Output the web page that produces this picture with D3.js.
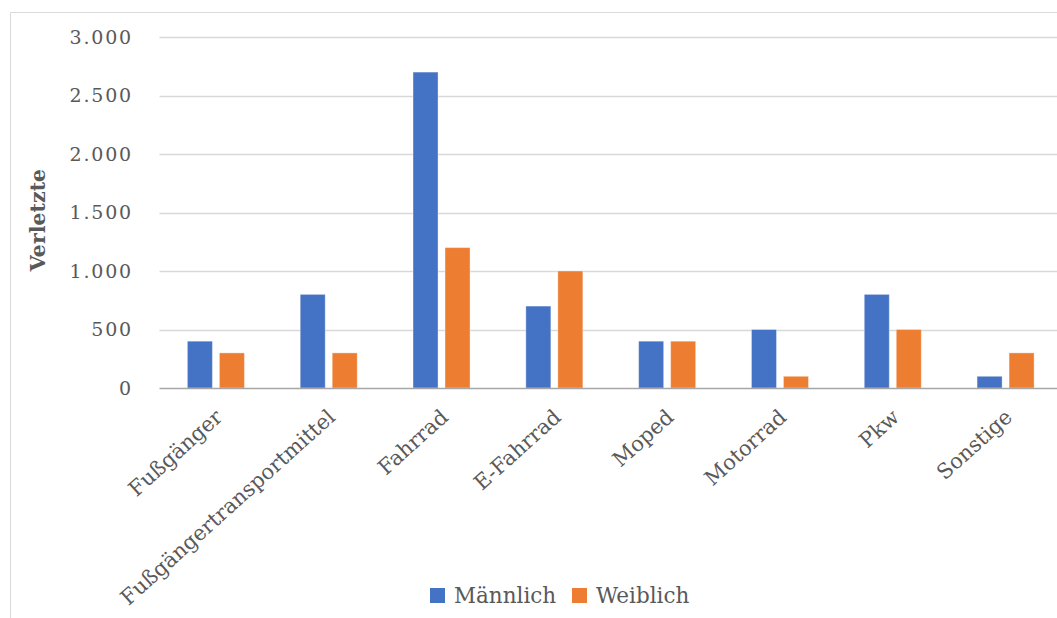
<!DOCTYPE html>
<html><head><meta charset="utf-8">
<script src="https://cdn.jsdelivr.net/npm/d3@7"></script>
<style>
html,body{margin:0;padding:0;background:#fff;}
svg{display:block;}
text{font-family:"DejaVu Serif","Liberation Serif",serif;fill:#595959;}
</style></head>
<body>
<svg id="c" width="1057" height="618"></svg>
<script>
const categories = ["Fußgänger","Fußgängertransportmittel","Fahrrad","E-Fahrrad","Moped","Motorrad","Pkw","Sonstige"];
const maennlich = [400,800,2700,700,400,500,800,100];
const weiblich  = [300,300,1200,1000,400,100,500,300];
const seriesNames = ["Männlich","Weiblich"];
const yTicks = [0,500,1000,1500,2000,2500,3000];
const yTitle = "Verletzte";

const colors = ["#4472C4","#ED7D31"];
const svg = d3.select("#c");
const W = 1057, H = 618;
const m = {left:159.5, right:-5, top:37, bottom:230};

// chart border
svg.append("path").attr("d","M10.5,618 V12.5 H1057")
  .attr("fill","none").attr("stroke","#d9d9d9").attr("stroke-width",1);

const x = d3.scaleBand().domain(categories).range([m.left, W - m.right]).paddingInner(0).paddingOuter(0);
const x1 = d3.scaleBand().domain(seriesNames).range([0, x.bandwidth()]).paddingInner(0.219).paddingOuter(0.872);
const y = d3.scaleLinear().domain([0,3000]).range([H - m.bottom, m.top]);

// gridlines
svg.append("g").selectAll("line").data(yTicks.filter(d=>d>0)).join("line")
  .attr("x1", m.left).attr("x2", W)
  .attr("y1", d=>Math.round(y(d))+0.5).attr("y2", d=>Math.round(y(d))+0.5)
  .attr("stroke","#d9d9d9").attr("stroke-width",1.3);

// y labels
const fmt = d => d3.format(",")(d).replace(/,/g,".");
svg.append("g").selectAll("text").data(yTicks).join("text")
  .attr("x",133).attr("y",d=>y(d)).attr("dy","0.35em")
  .attr("text-anchor","end").attr("font-size",19).attr("letter-spacing",1.8).text(fmt);

// bars
const data = categories.map((c,i)=>({c, vals:[maennlich[i], weiblich[i]]}));
const g = svg.append("g").selectAll("g").data(data).join("g")
  .attr("transform", d=>`translate(${x(d.c)},0)`);
g.selectAll("rect").data(d=>d.vals.map((v,j)=>({v,j}))).join("rect")
  .attr("x", d=>x1(seriesNames[d.j]))
  .attr("width", x1.bandwidth())
  .attr("y", d=>y(d.v))
  .attr("height", d=>y(0)-y(d.v))
  .attr("fill", d=>colors[d.j])
  .attr("stroke","rgba(255,255,255,0.35)").attr("stroke-width",1);

// x axis line
svg.append("line").attr("x1",m.left).attr("x2",W)
  .attr("y1",Math.round(y(0))+0.5).attr("y2",Math.round(y(0))+0.5)
  .attr("stroke","#a6a6a6").attr("stroke-width",1.5);

// x labels
svg.append("g").selectAll("text").data(categories).join("text")
  .attr("transform", d=>`translate(${x(d)+x.bandwidth()/2-2},${y(0)+20}) rotate(-42)`)
  .attr("text-anchor","end").attr("dy","0.7em").attr("font-size",21).text(d=>d);

// y title
svg.append("text").attr("transform","translate(38,220) rotate(-90)")
  .attr("text-anchor","middle").attr("dy","0.35em").attr("font-size",20.5)
  .attr("font-weight","bold").attr("fill","#404040").text(yTitle);

// legend
const leg = svg.append("g");
const legX = [430, 572];
seriesNames.forEach((s,i)=>{
  leg.append("rect").attr("x",legX[i]).attr("y",588).attr("width",15).attr("height",15).attr("fill",colors[i]);
  leg.append("text").attr("x",legX[i]+24).attr("y",595.5).attr("dy","0.35em").attr("font-size",21.5).text(s);
});
</script>
</body></html>
